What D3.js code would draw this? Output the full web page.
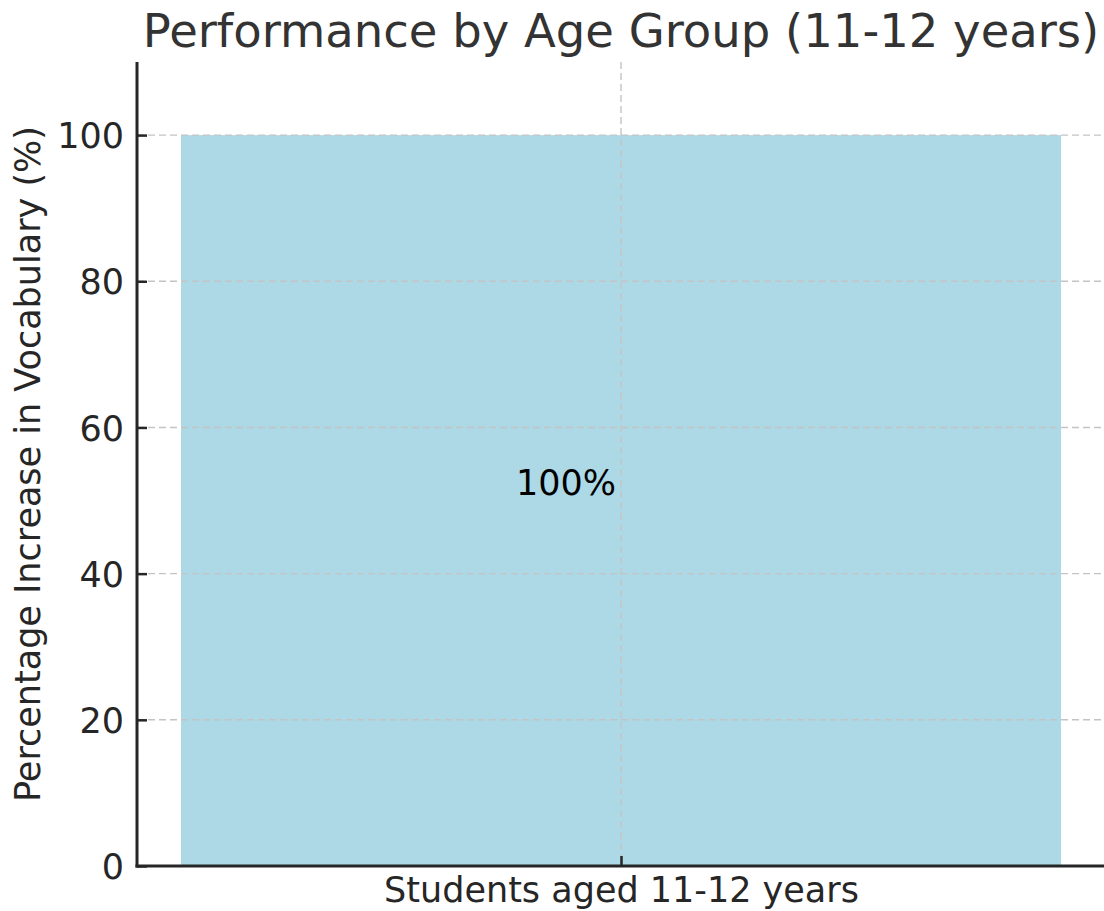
<!DOCTYPE html>
<html>
<head>
<meta charset="utf-8">
<script src="https://cdn.jsdelivr.net/npm/d3@7"></script>
<style>
  html, body { margin: 0; padding: 0; background: #fff; }
  svg { display: block; }
  text { font-family: 'DejaVu Sans', sans-serif; }
</style>
</head>
<body>
<svg id="chart"></svg>
<script>
// data
const categories = ['Students aged 11-12 years']
const values = [100]
const valueLabels = ['100%']
const yTicks = [0, 20, 40, 60, 80, 100]

const titleText = 'Performance by Age Group (11-12 years)'
const yLabelText = 'Percentage Increase in Vocabulary (%)'

const width = 1104
const height = 911
const margin = { top: 62, right: -1, bottom: 45, left: 137 }

const svg = d3.select('#chart').attr('width', width).attr('height', height)

const plotW = width - margin.left - margin.right
const plotH = height - margin.top - margin.bottom

// single bar positioned like matplotlib: bar width 0.8, xlim -0.44..0.44
const x = d3.scaleLinear().domain([-0.44, 0.44]).range([0, plotW])
const y = d3.scaleLinear().domain([0, 110]).range([plotH, 0])
const barWidth = 0.8

const g = svg.append('g').attr('transform', `translate(${margin.left},${margin.top})`)

// bars
g.append('g')
  .attr('id', 'bars')
  .selectAll('rect')
  .data(values)
  .join('rect')
  .attr('x', (d, i) => x(i - barWidth / 2))
  .attr('width', (d, i) => x(i + barWidth / 2) - x(i - barWidth / 2))
  .attr('y', (d) => y(d))
  .attr('height', (d) => y(0) - y(d))
  .attr('fill', '#add8e6')

// grid (drawn over the bar)
const grid = g.append('g').attr('id', 'grid')
grid.selectAll('line.h')
  .data(yTicks)
  .join('line')
  .attr('class', 'h')
  .attr('x1', 0)
  .attr('x2', plotW)
  .attr('y1', (d) => y(d))
  .attr('y2', (d) => y(d))
grid.selectAll('line.v')
  .data(categories)
  .join('line')
  .attr('class', 'v')
  .attr('x1', (d, i) => x(i))
  .attr('x2', (d, i) => x(i))
  .attr('y1', 0)
  .attr('y2', plotH)
grid.selectAll('line')
  .attr('stroke', '#c4c4c4')
  .attr('stroke-width', 1.4)
  .attr('stroke-dasharray', '7,4')

// value labels
g.append('g')
  .selectAll('text')
  .data(values)
  .join('text')
  .attr('x', (d, i) => x(i - 0.05))
  .attr('y', (d) => y(d / 2))
  .attr('dy', -6)
  .attr('text-anchor', 'middle')
  .attr('font-size', 35)
  .attr('fill', '#000')
  .text((d, i) => valueLabels[i])

// y axis
const yAxis = g.append('g')
  .attr('id', 'yAxis')
  .call(d3.axisLeft(y).tickValues(yTicks).tickSize(-10).tickPadding(13).tickSizeOuter(0))
yAxis.select('.domain').remove()
yAxis.selectAll('.tick line').attr('stroke', '#262626').attr('stroke-width', 2.5)
yAxis.selectAll('.tick text')
  .attr('font-size', 35)
  .attr('font-family', 'DejaVu Sans')
  .attr('fill', '#262626')
  .attr('x', -13)
  .attr('dy', '0.36em')

// x axis
const xAxis = g.append('g')
  .attr('id', 'xAxis')
  .attr('transform', `translate(0,${plotH})`)
  .call(
    d3.axisBottom(x)
      .tickValues(categories.map((d, i) => i))
      .tickFormat((d) => categories[d])
      .tickSize(-10)
      .tickPadding(0)
      .tickSizeOuter(0)
  )
xAxis.select('.domain').remove()
xAxis.selectAll('.tick line').attr('stroke', '#262626').attr('stroke-width', 2.5)
xAxis.selectAll('.tick text')
  .attr('font-size', 35)
  .attr('font-family', 'DejaVu Sans')
  .attr('fill', '#262626')
  .attr('y', 36)
  .attr('dy', 0)

// spines
g.append('line')
  .attr('x1', 0).attr('x2', 0)
  .attr('y1', 0).attr('y2', plotH + 1.5)
  .attr('stroke', '#262626').attr('stroke-width', 3)
g.append('line')
  .attr('x1', -1.5).attr('x2', plotW)
  .attr('y1', plotH).attr('y2', plotH)
  .attr('stroke', '#262626').attr('stroke-width', 3)

// y label
svg.append('text')
  .attr('transform', `translate(40,${margin.top + plotH / 2}) rotate(-90)`)
  .attr('text-anchor', 'middle')
  .attr('font-size', 35)
  .attr('fill', '#262626')
  .text(yLabelText)

// title
svg.append('text')
  .attr('x', margin.left + x(0))
  .attr('y', 47)
  .attr('text-anchor', 'middle')
  .attr('font-size', 46.5)
  .attr('fill', '#333')
  .text(titleText)
</script>
</body>
</html>
